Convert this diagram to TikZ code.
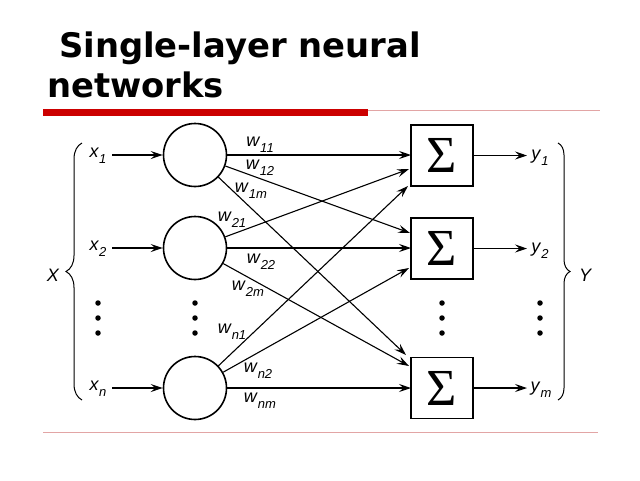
\documentclass[tikz,border=0pt]{standalone}
\usepackage{fontspec}
\setmainfont{Liberation Sans}
\newfontfamily\titlefont{DejaVu Sans}
\newfontfamily\sigmafont{Liberation Serif}
\usetikzlibrary{arrows.meta,decorations.pathreplacing}
\newcommand\lab[2]{\textit{#1}\raisebox{-0.33em}{\fontsize{13}{13}\selectfont\textit{#2}}}
\definecolor{barred}{HTML}{CC0000}
\definecolor{thinred}{HTML}{E2A5A5}
\begin{document}
\begin{tikzpicture}[x=1pt,y=-1pt,
  neuron/.style={circle,draw,line width=1.6pt,minimum size=63pt,inner sep=0pt},
  sumbox/.style={rectangle,draw,line width=1.6pt,minimum width=62pt,minimum height=61pt,inner sep=0pt,
    font=\sigmafont\fontsize{52}{52}\selectfont},
  conn/.style={line width=1.1pt,-{Stealth[length=12pt,width=8pt,inset=4.5pt]}},
  lbl/.style={font=\fontsize{18}{18}\selectfont,inner sep=0pt},
  biglbl/.style={font=\fontsize{18}{18}\selectfont\itshape,inner sep=0pt},
  dot/.style={circle,fill,inner sep=0pt,minimum size=5.5pt},
  bracel/.style={decorate,decoration={brace,amplitude=#1},line width=1pt},
  title/.style={anchor=base west,inner sep=0pt,font=\titlefont\bfseries\fontsize{33.8}{33.8}\selectfont}]
\useasboundingbox (0,0) rectangle (640,480);

% title
\node[title] (t1) at (59,57) {Single-layer neural};
\node[title] (t2) at (47,97) {networks};
\fill[barred] (43,109) rectangle (368,116);
\draw[thinred,line width=0.9pt] (368,110) -- (600,110);
\draw[thinred,line width=0.9pt] (43,432) -- (598,432);

% neurons
\node[neuron] (n1) at (195,155) {};
\node[neuron] (n2) at (195,248) {};
\node[neuron] (nn) at (195,388) {};

% sum boxes
\node[sumbox] (s1) at (442,155.5) {Σ};
\node[sumbox] (s2) at (442,248.5) {Σ};
\node[sumbox] (s3) at (442,388) {Σ};

% inputs
\node[lbl] (x1) at (98,156) {\lab{x}{1}};
\node[lbl] (x2) at (98,249) {\lab{x}{2}};
\node[lbl] (xn) at (98,389) {\lab{x}{n}};
\coordinate (i1) at (112,155);
\coordinate (i2) at (112,248);
\coordinate (in) at (112,388);
\draw[conn] (i1) -- (n1);
\draw[conn] (i2) -- (n2);
\draw[conn] (in) -- (nn);

% targets on boxes
\coordinate (t11) at (411,155);
\coordinate (t21) at (409,169);
\coordinate (tn1) at (408,186);
\coordinate (t12) at (410,233);
\coordinate (t22) at (411,248);
\coordinate (tn2) at (409,268);
\coordinate (t13) at (406,355);
\coordinate (t23) at (409,366);
\coordinate (tn3) at (411,388);

\draw[conn] (n1) -- (t11);
\draw[conn] (n1) -- (t12);
\draw[conn] (n1) -- (t13);
\draw[conn] (n2) -- (t21);
\draw[conn] (n2) -- (t22);
\draw[conn] (n2) -- (t23);
\draw[conn] (nn) -- (tn1);
\draw[conn] (nn) -- (tn2);
\draw[conn] (nn) -- (tn3);

% weight labels
\node[lbl] (w11) at (260,145) {\lab{w}{11}};
\node[lbl] (w12) at (260,168) {\lab{w}{12}};
\node[lbl] (w1m) at (251,191) {\lab{w}{1m}};
\node[lbl] (w21) at (232,220) {\lab{w}{21}};
\node[lbl] (w22) at (261,262) {\lab{w}{22}};
\node[lbl] (w2m) at (248,289) {\lab{w}{2m}};
\node[lbl] (wn1) at (232,332) {\lab{w}{n1}};
\node[lbl] (wn2) at (258,371) {\lab{w}{n2}};
\node[lbl] (wnm) at (260,401) {\lab{w}{nm}};

% outputs
\coordinate (o1) at (527,155.5);
\coordinate (o2) at (527,248.5);
\coordinate (om) at (527,388);
\draw[conn] (s1) -- (o1);
\draw[conn] (s2) -- (o2);
\draw[conn] (s3) -- (om);
\node[lbl] (y1) at (540,158) {\lab{y}{1}};
\node[lbl] (y2) at (540,251) {\lab{y}{2}};
\node[lbl] (ym) at (541,390) {\lab{y}{m}};

% dots
\foreach \xx/\nm in {98/a,195/b,442/c,540/d}{
  \node[dot] (d\nm1) at (\xx,303) {};
  \node[dot] (d\nm2) at (\xx,318) {};
  \node[dot] (d\nm3) at (\xx,333) {};
}

% braces
\coordinate (bl1) at (82,400);
\coordinate (bl2) at (82,143);
\coordinate (br1) at (558,143);
\coordinate (br2) at (558,400);
\draw[bracel=16pt] (bl1) -- (bl2);
\draw[bracel=12pt] (br1) -- (br2);
\node[biglbl] (X) at (53,275) {X};
\node[biglbl] (Y) at (585,275) {Y};
\end{tikzpicture}
\end{document}
